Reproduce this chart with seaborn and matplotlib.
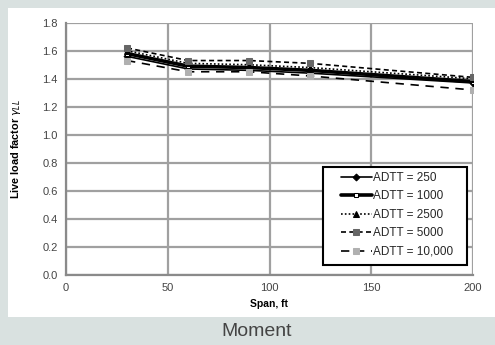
import matplotlib
matplotlib.use("Agg")
import matplotlib.pyplot as plt
import matplotlib.patches as mpatches
import seaborn as sns
import pandas as pd

sns.set_theme(style="white")
plt.rcParams["font.family"] = ["Liberation Sans", "DejaVu Sans"]

# Span lengths (ft) and live load factors per ADTT level
span = [30, 60, 90, 120, 200]
adtt_250 = [1.56, 1.47, 1.46, 1.44, 1.37]
adtt_1000 = [1.58, 1.49, 1.48, 1.46, 1.38]
adtt_2500 = [1.60, 1.51, 1.50, 1.48, 1.40]
adtt_5000 = [1.62, 1.53, 1.53, 1.51, 1.41]
adtt_10000 = [1.53, 1.45, 1.45, 1.42, 1.32]

labels = ["ADTT = 250", "ADTT = 1000", "ADTT = 2500", "ADTT = 5000", "ADTT = 10,000"]
series = [adtt_250, adtt_1000, adtt_2500, adtt_5000, adtt_10000]

x_ticks = [0, 50, 100, 150, 200]
y_ticks = [0.0, 0.2, 0.4, 0.6, 0.8, 1.0, 1.2, 1.4, 1.6, 1.8]

df = pd.DataFrame(
    [(s, v, lab) for lab, vals in zip(labels, series) for s, v in zip(span, vals)],
    columns=["span", "factor", "series"],
)

styles = {
    "ADTT = 250": dict(color="black", lw=1.2, ls="-", marker="D", ms=3.5,
                       mfc="black", mec="black"),
    "ADTT = 1000": dict(color="black", lw=2.6, ls="-", marker="s", ms=3.5,
                        mfc="white", mec="black"),
    "ADTT = 2500": dict(color="black", lw=1.2, ls=(0, (1, 1.3)), marker="^", ms=4,
                        mfc="black", mec="black"),
    "ADTT = 5000": dict(color="black", lw=1.2, ls=(0, (3, 2)), marker="s", ms=4.5,
                        mfc="#666666", mec="#666666"),
    "ADTT = 10,000": dict(color="black", lw=1.2, ls=(0, (5, 4)), marker="s", ms=4.5,
                          mfc="#b0b0b0", mec="#b0b0b0"),
}

W, H = 495, 345
fig = plt.figure(figsize=(W / 100, H / 100), dpi=100)
fig.patch.set_facecolor("#d9e1e0")
# white panel behind the chart
panel = mpatches.Rectangle((8 / W, 28 / H), 1 - 8 / W, (317 - 8) / H,
                           transform=fig.transFigure, facecolor="white",
                           edgecolor="none", zorder=-10)
fig.patches.append(panel)

ax = fig.add_axes([66 / W, 70 / H, (473 - 66) / W, (275 - 22.7) / H])
ax.set_facecolor("none")

for lab in labels:
    st = styles[lab]
    sns.lineplot(data=df[df["series"] == lab], x="span", y="factor", ax=ax,
                 color=st["color"], linewidth=st["lw"], linestyle=st["ls"],
                 marker=st["marker"], markersize=st["ms"],
                 markerfacecolor=st["mfc"], markeredgecolor=st["mec"],
                 label=lab, zorder=3)

ax.set_xlim(0, 200)
ax.set_ylim(0, 1.8)
ax.set_xticks(x_ticks)
ax.set_yticks(y_ticks)
ax.set_yticklabels([f"{v:.1f}" for v in y_ticks])
ax.grid(True, color="#a0a0a0", linewidth=1.6)
ax.set_axisbelow(True)
for side in ["top", "right"]:
    ax.spines[side].set_visible(False)
for side in ["left", "bottom"]:
    ax.spines[side].set_color("#8a8a8a")
    ax.spines[side].set_linewidth(1.6)
ax.tick_params(axis="both", labelsize=8, colors="#8a8a8a", labelcolor="#444444",
               length=4, width=1.2, direction="inout", pad=4)

ax.set_xlabel("Span, ft", fontsize=7.5, fontweight="bold", color="black", labelpad=4)
ax.set_ylabel(r"Live load factor $\gamma_{LL}$", fontsize=7.8, fontweight="bold",
              color="black", labelpad=14)

# legend entries without a frame, boxed by a separate white rectangle
leg = ax.legend(loc="upper left", bbox_to_anchor=(341 / W, 1 - 172 / H),
                bbox_transform=fig.transFigure, fontsize=8.5, frameon=False,
                handlelength=2.6, handletextpad=0.1, borderpad=0,
                borderaxespad=0, labelspacing=0.55)
leg.set_zorder(6)
box = mpatches.Rectangle((323 / W, 1 - 265 / H), 144 / W, 98 / H,
                         transform=fig.transFigure, facecolor="white",
                         edgecolor="black", linewidth=1.5, zorder=5)
ax.add_artist(box)
box.set_clip_on(False)

fig.text(257 / W, 1 - 331 / H, "Moment", ha="center", va="center",
         fontsize=14, color="#444444")

fig.savefig("out.png", dpi=100, facecolor=fig.get_facecolor())
